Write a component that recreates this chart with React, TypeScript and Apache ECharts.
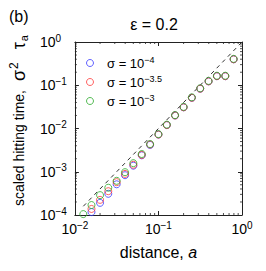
import { useEffect, useRef } from "react";
import * as echarts from "echarts";

const distances = [0.0126, 0.0158, 0.02, 0.0251, 0.0316, 0.0398, 0.0501, 0.0631, 0.0794, 0.1, 0.126, 0.158, 0.2, 0.251, 0.316, 0.398, 0.501, 0.631, 0.794];
const sigmaE4: (number | null)[] = [null, 1.17e-4, 1.91e-4, 3.09e-4, 5.13e-4, 8.32e-4, 1.38e-3, 2.4e-3, 4.17e-3, 7.24e-3, 1.2e-2, 2.0e-2, 3.09e-2, 5.13e-2, 8.32e-2, 0.123, 0.162, 0.162, 0.398];
const sigmaE35: (number | null)[] = [null, 1.38e-4, 2.24e-4, 3.55e-4, 5.75e-4, 8.91e-4, 1.45e-3, 2.45e-3, 4.27e-3, 7.24e-3, 1.2e-2, 2.0e-2, 3.09e-2, 5.13e-2, 8.32e-2, 0.123, 0.162, 0.162, 0.398];
const sigmaE3: (number | null)[] = [1.05e-4, 1.7e-4, 2.88e-4, 4.27e-4, 6.17e-4, 9.77e-4, 1.58e-3, 2.57e-3, 4.37e-3, 7.41e-3, 1.23e-2, 2.04e-2, 3.16e-2, 5.25e-2, 8.51e-2, 0.126, 0.166, 0.166, 0.407];
const refX = [0.0126, 1];
const refY = [0.000159, 1];
const seriesNames = ["σ = 10^−4", "σ = 10^−3.5", "σ = 10^−3"];
const seriesExps = ["−4", "−3.5", "−3"];
const xMinor = [0.02, 0.03, 0.04, 0.05, 0.06, 0.07, 0.08, 0.09, 0.2, 0.3, 0.4, 0.5, 0.6, 0.7, 0.8, 0.9];
const yMinor = [2e-4, 3e-4, 4e-4, 5e-4, 6e-4, 7e-4, 8e-4, 9e-4, 2e-3, 3e-3, 4e-3, 5e-3, 6e-3, 7e-3, 8e-3, 9e-3, 0.02, 0.03, 0.04, 0.05, 0.06, 0.07, 0.08, 0.09, 0.2, 0.3, 0.4, 0.5, 0.6, 0.7, 0.8, 0.9];

const FONT = "Liberation Sans, Arial, Helvetica, sans-serif";
const colors = ["#3a3aff", "#ff3a3a", "#2aaa2a"];

function pairs(ys: (number | null)[]) {
  const out: number[][] = [];
  ys.forEach((y, i) => {
    if (y !== null) out.push([distances[i], y]);
  });
  return out;
}

const expFmt = (v: number) => {
  const e = Math.round(Math.log10(v));
  return `{b|10}{s|${e < 0 ? "−" + Math.abs(e) : e}}`;
};

const tickRich = {
  b: { fontSize: 14, fontFamily: FONT, color: "#000", lineHeight: 18 },
  s: { fontSize: 10, fontFamily: FONT, color: "#000", verticalAlign: "top", lineHeight: 18, padding: [0, 0, 7, 0] },
};

export default function App() {
  const ref = useRef<HTMLDivElement>(null);
  useEffect(() => {
    if (!ref.current) return;
    const chart = echarts.init(ref.current, null, { renderer: "svg" });
    const frameAxis = {
      axisLine: { show: true, lineStyle: { color: "#222", width: 1 } },
      axisTick: { show: true, inside: true, length: 4, lineStyle: { color: "#222" } },
      splitLine: { show: false },
    };
    const tickLine = (x1: number, y1: number, x2: number, y2: number) => ({
      type: "line",
      shape: { x1, y1, x2, y2 },
      style: { stroke: "#222", lineWidth: 0.8 },
    });
    chart.setOption({
      animation: false,
      backgroundColor: "#fff",
      grid: { left: 69, top: 42, width: 173, height: 173 },
      graphic: [
        { type: "text", x: 9, y: 8, style: { text: "(b)", font: `16px ${FONT}`, fill: "#000" } },
        { type: "text", x: 154, y: 16, style: { text: "ε = 0.2", font: `16px ${FONT}`, fill: "#000", textAlign: "center" } },
      ],
      legend: {
        orient: "vertical",
        left: 81,
        top: 50,
        itemWidth: 24,
        itemHeight: 7,
        itemGap: 4,
        data: seriesNames.map((n, i) => ({
          name: n,
          icon: "circle",
          itemStyle: { color: "rgba(0,0,0,0)", borderColor: colors[i], borderWidth: 1 },
        })),
        formatter: (name: string) => {
          const i = seriesNames.indexOf(name);
          return `{b|σ = 10}{s|${seriesExps[i]}}`;
        },
        textStyle: {
          rich: {
            b: { fontSize: 13, fontFamily: FONT, color: "#000", lineHeight: 16 },
            s: { fontSize: 9, fontFamily: FONT, color: "#000", verticalAlign: "top", lineHeight: 16, padding: [0, 0, 6, 0] },
          },
        },
      },
      xAxis: [
        {
          type: "log",
          logBase: 10,
          min: 0.01,
          max: 1,
          position: "bottom",
          ...frameAxis,
          axisLabel: { show: true, margin: 5, formatter: expFmt, rich: tickRich },
          name: "distance, {i|a}",
          nameLocation: "middle",
          nameGap: 29,
          nameTextStyle: {
            fontSize: 16,
            fontFamily: FONT,
            color: "#000",
            rich: {
              i: { fontSize: 16, fontFamily: FONT, fontStyle: "italic", color: "#000" },
            },
          },
        },
        {
          type: "log",
          logBase: 10,
          min: 0.01,
          max: 1,
          position: "top",
          ...frameAxis,
          axisLabel: { show: false },
        },
      ],
      yAxis: [
        {
          type: "log",
          logBase: 10,
          min: 1e-4,
          max: 1,
          position: "left",
          ...frameAxis,
          axisLabel: { show: true, margin: 35, align: "left", formatter: expFmt, rich: tickRich },
          name: "{m|scaled hitting time,}{g|σ}{sup|2}{t|τ}{sub|a}",
          nameLocation: "middle",
          nameGap: 40,
          nameTextStyle: {
            padding: [0, 0, 0, 16],
            rich: {
              m: { fontSize: 14, fontFamily: FONT, color: "#000" },
              g: { fontSize: 18, fontFamily: FONT, color: "#000", padding: [0, 0, 0, 9] },
              t: { fontSize: 18, fontFamily: FONT, color: "#000", padding: [0, 0, 0, 13] },
              sup: { fontSize: 12, fontFamily: FONT, color: "#000", verticalAlign: "top", padding: [0, 0, 9, 1] },
              sub: { fontSize: 11, fontFamily: FONT, color: "#000", verticalAlign: "bottom", padding: [7, 0, 0, 1] },
            },
          },
        },
        {
          type: "log",
          logBase: 10,
          min: 1e-4,
          max: 1,
          position: "right",
          ...frameAxis,
          axisLabel: { show: false },
        },
      ],
      series: [
        {
          type: "line",
          data: refX.map((x, i) => [x, refY[i]]),
          symbol: "none",
          lineStyle: { color: "#333", width: 1, type: [4, 4] },
          z: 1,
          silent: true,
        },
        ...[sigmaE4, sigmaE35, sigmaE3].map((ys, i) => ({
          type: "scatter",
          name: seriesNames[i],
          data: pairs(ys),
          symbol: "circle",
          symbolSize: 7,
          itemStyle: { color: "rgba(0,0,0,0)", borderColor: colors[i], borderWidth: 1 },
          z: 3 + i,
        })),
        {
          type: "custom",
          silent: true,
          data: xMinor.map((v) => [v, 1e-4]),
          renderItem: (_p: any, api: any) => {
            const v = api.value(0);
            const b = api.coord([v, 1e-4]);
            const t = api.coord([v, 1]);
            return {
              type: "group",
              children: [tickLine(b[0], b[1], b[0], b[1] - 2), tickLine(t[0], t[1], t[0], t[1] + 2)],
            };
          },
        },
        {
          type: "custom",
          silent: true,
          data: yMinor.map((v) => [0.01, v]),
          renderItem: (_p: any, api: any) => {
            const v = api.value(1);
            const l = api.coord([0.01, v]);
            const r = api.coord([1, v]);
            return {
              type: "group",
              children: [tickLine(l[0], l[1], l[0] + 2, l[1]), tickLine(r[0], r[1], r[0] - 2, r[1])],
            };
          },
        },
      ],
    });
    return () => chart.dispose();
  }, []);
  return <div ref={ref} style={{ position: "fixed", left: 0, top: 0, width: 266, height: 271 }} />;
}
